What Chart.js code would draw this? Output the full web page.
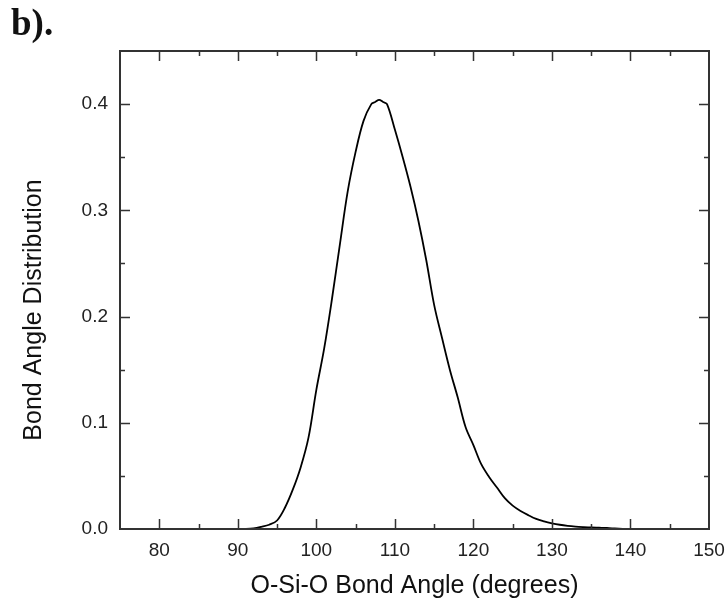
<!DOCTYPE html>
<html>
<head>
<meta charset="utf-8">
<script src="https://cdn.jsdelivr.net/npm/chart.js@4.4.1/dist/chart.umd.min.js"></script>
<style>
  html, body { margin: 0; padding: 0; background: #ffffff; }
  #wrap { width: 727px; height: 602px; position: relative; }
</style>
</head>
<body>
<div id="wrap"><canvas id="c" width="727" height="602"></canvas></div>
<script>
// Data
const angles = [90, 91, 92, 93, 94, 95, 96, 97, 98, 99, 100, 101, 102, 103, 104, 105, 106, 107, 107.5, 108, 108.5, 109, 110, 111, 112, 113, 114, 115, 116, 117, 118, 119, 120, 121, 122, 123, 124, 125, 126, 127, 128, 129, 130, 131, 132, 133, 134, 135, 136, 137, 138, 139];
const distribution = [0, 0, 0.0005, 0.002, 0.004, 0.008, 0.020, 0.037, 0.058, 0.086, 0.131, 0.170, 0.217, 0.268, 0.318, 0.355, 0.384, 0.400, 0.402, 0.404, 0.402, 0.400, 0.376, 0.350, 0.322, 0.290, 0.253, 0.211, 0.180, 0.150, 0.124, 0.096, 0.079, 0.061, 0.049, 0.039, 0.029, 0.022, 0.017, 0.013, 0.0095, 0.0072, 0.0054, 0.004, 0.003, 0.0023, 0.0018, 0.0014, 0.0012, 0.001, 0.0005, 0];
const xTicksMajor = [80, 90, 100, 110, 120, 130, 140, 150];
const xTicksMinor = [75, 85, 95, 105, 115, 125, 135, 145];
const yTicksMajor = [0.0, 0.1, 0.2, 0.3, 0.4];
const yTicksMinor = [0.05, 0.15, 0.25, 0.35];
const panelLabel = "b).";
const xTitle = "O-Si-O Bond Angle (degrees)";
const yTitle = "Bond Angle Distribution";

const points = angles.map((a, i) => ({ x: a, y: distribution[i] }));

const inwardTicks = {
  id: 'inwardTicks',
  afterDatasetsDraw(chart) {
    const ctx = chart.ctx;
    const a = chart.chartArea;
    const xs = chart.scales.x, ys = chart.scales.y;
    ctx.save();
    ctx.strokeStyle = '#333';
    ctx.lineWidth = 1.5;
    const major = 10, minor = 5;
    const drawX = (v, len) => {
      const px = Math.round(xs.getPixelForValue(v)) + 0.5;
      if (px <= a.left + 1 || px >= a.right - 1) return;
      ctx.beginPath();
      ctx.moveTo(px, a.bottom); ctx.lineTo(px, a.bottom - len);
      ctx.moveTo(px, a.top); ctx.lineTo(px, a.top + len);
      ctx.stroke();
    };
    const drawY = (v, len) => {
      const py = Math.round(ys.getPixelForValue(v)) + 0.5;
      if (py >= a.bottom - 1 || py <= a.top + 1) return;
      ctx.beginPath();
      ctx.moveTo(a.left, py); ctx.lineTo(a.left + len, py);
      ctx.moveTo(a.right, py); ctx.lineTo(a.right - len, py);
      ctx.stroke();
    };
    xTicksMajor.forEach(v => drawX(v, major));
    xTicksMinor.forEach(v => drawX(v, minor));
    yTicksMajor.forEach(v => drawY(v, major));
    yTicksMinor.forEach(v => drawY(v, minor));
    // frame
    ctx.lineWidth = 2;
    ctx.strokeRect(a.left, a.top, a.right - a.left, a.bottom - a.top);
    // panel label
    ctx.fillStyle = '#111';
    ctx.font = 'bold 37px "Liberation Serif", "Times New Roman", serif';
    ctx.textBaseline = 'alphabetic';
    ctx.textAlign = 'left';
    ctx.fillText(panelLabel, 11, 35);
    // y axis title
    ctx.save();
    ctx.translate(34, 310);
    ctx.rotate(-Math.PI / 2);
    ctx.font = '25px "Liberation Sans", Arial, sans-serif';
    ctx.textAlign = 'center';
    ctx.textBaseline = 'middle';
    ctx.fillText(yTitle, 0, 0);
    ctx.restore();
    ctx.restore();
  }
};

new Chart(document.getElementById('c'), {
  type: 'line',
  data: {
    datasets: [{
      data: points,
      borderColor: '#000',
      borderWidth: 1.8,
      pointRadius: 0,
      tension: 0.35,
      fill: false
    }]
  },
  options: {
    responsive: false,
    animation: false,
    devicePixelRatio: 1,
    layout: { padding: { top: 51, right: 18, left: 0, bottom: 0 } },
    plugins: { legend: { display: false }, tooltip: { enabled: false }, title: { display: false } },
    scales: {
      x: {
        type: 'linear',
        min: 75, max: 150,
        grid: { display: false, drawTicks: false },
        border: { display: true, color: '#333', width: 2 },
        afterBuildTicks: (s) => { s.ticks = xTicksMajor.map(v => ({ value: v })); },
        afterFit: (s) => { s.height = 73; s.paddingLeft = 0; s.paddingRight = 0; },
        ticks: {
          color: '#222', padding: 10,
          font: { family: '"Liberation Sans", Arial, sans-serif', size: 19 },
          maxRotation: 0, autoSkip: false,
          callback: (v) => String(v)
        },
        title: {
          display: true, text: xTitle, color: '#111',
          font: { family: '"Liberation Sans", Arial, sans-serif', size: 25 },
          padding: { top: 0, bottom: 1 }
        }
      },
      y: {
        type: 'linear',
        min: 0, max: 0.45,
        grid: { display: false, drawTicks: false },
        border: { display: true, color: '#333', width: 2 },
        afterBuildTicks: (s) => { s.ticks = yTicksMajor.map(v => ({ value: v })); },
        afterFit: (s) => { s.width = 120; s.paddingTop = 0; s.paddingBottom = 0; },
        ticks: {
          color: '#222', padding: 12,
          font: { family: '"Liberation Sans", Arial, sans-serif', size: 19 },
          autoSkip: false,
          callback: (v) => Number(v).toFixed(1)
        },
        title: { display: false, text: yTitle }
      }
    }
  },
  plugins: [inwardTicks]
});
</script>
</body>
</html>
